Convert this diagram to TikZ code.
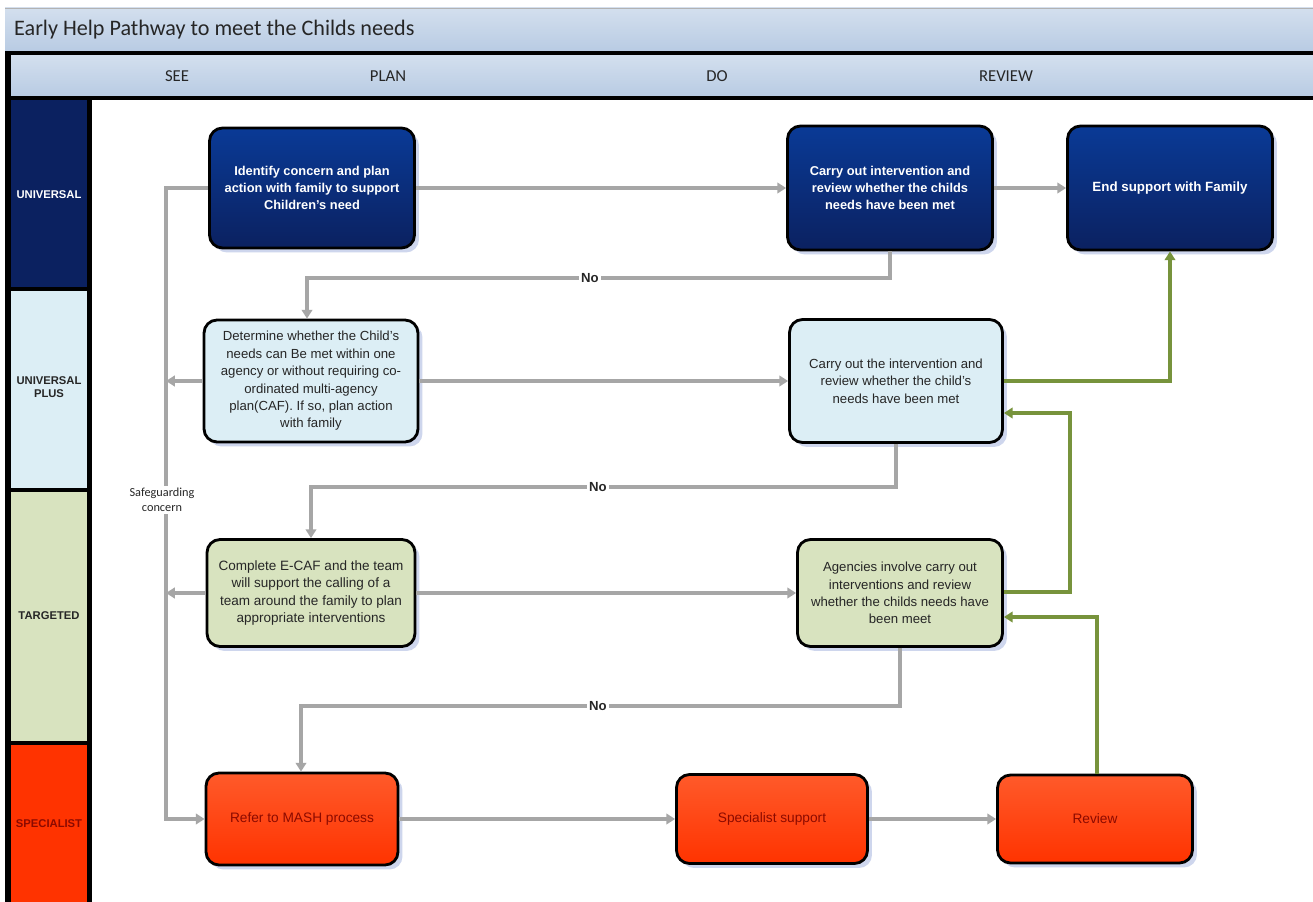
\documentclass[tikz,border=0pt]{standalone}
\usepackage{fontspec}
\setmainfont{Liberation Sans}
\newfontfamily\carlitofont{Carlito}
\usetikzlibrary{arrows.meta,shadows,calc}
\definecolor{navyA}{HTML}{0A3A96}
\definecolor{navyB}{HTML}{0B2160}
\definecolor{lblue}{HTML}{DCEEF5}
\definecolor{lgreen}{HTML}{D8E3BF}
\definecolor{redA}{HTML}{FF5A2A}
\definecolor{redB}{HTML}{FF3300}
\definecolor{conn}{HTML}{A6A6A6}
\definecolor{gconn}{HTML}{77933C}
\definecolor{hdrA}{HTML}{D3DFEE}
\definecolor{hdrB}{HTML}{B8CBE3}
\definecolor{shad}{HTML}{C9D2EC}
\definecolor{dred}{HTML}{8B0A00}
\definecolor{txtg}{HTML}{262626}
\tikzset{
  box/.style={draw=black, line width=1.6pt, rounded corners=0.26cm, align=center,
    font=\fontsize{7.3}{9.6}\selectfont, inner sep=0pt,
    drop shadow={fill=shad, shadow xshift=0.09cm, shadow yshift=-0.09cm, opacity=0.9}},
  ubox/.style={box, top color=navyA, bottom color=navyB, text=white, font=\fontsize{7.3}{9.6}\selectfont\bfseries},
  pbox/.style={box, fill=lblue, text=txtg},
  tbox/.style={box, fill=lgreen, text=txtg},
  sbox/.style={box, top color=redA, bottom color=redB, text=dred},
  garrow/.style={draw=conn, line width=2.3pt, -{Triangle[length=5pt,width=6pt]}},
  grn/.style={draw=gconn, line width=2.3pt, -{Triangle[length=5pt,width=6pt]}},
  lane/.style={draw=none, font=\fontsize{6.4}{7.5}\selectfont\bfseries, align=center},
  nolab/.style={fill=white, inner sep=1pt, font=\fontsize{7.5}{8}\selectfont\bfseries, text=txtg},
  hdr/.style={font=\carlitofont\fontsize{9.5}{11}\selectfont, text=txtg}
}
\begin{document}
\begin{tikzpicture}[x=0.02cm,y=-0.02cm]
\useasboundingbox (0,0) rectangle (1313,902);
\fill[white] (0,0) rectangle (1313,902);
% title bar
\shade[top color=hdrA, bottom color=hdrB] (5,8) rectangle (1313,52);
\draw[gray!60, line width=0.5pt] (5,8) -- (1313,8);
\node[anchor=west, font=\carlitofont\fontsize{12.6}{14}\selectfont, text=txtg] (title) at (8,30) {Early Help Pathway to meet the Childs needs};
% phase header
\shade[top color=hdrA, bottom color=hdrB] (5,55) rectangle (1313,97);
\fill[black] (5,51) rectangle (1313,55);
\fill[black] (5,96) rectangle (1313,100);
\node[hdr] (see) at (177,76) {SEE};
\node[hdr] (plan) at (388,76) {PLAN};
\node[hdr] (do) at (717,76) {DO};
\node[hdr] (review) at (1006,76) {REVIEW};
% lanes
\fill[navyB] (10,100) rectangle (88,288);
\fill[lblue] (10,288) rectangle (88,489);
\fill[lgreen] (10,489) rectangle (88,743);
\fill[redB] (10,743) rectangle (88,902);
\fill[black] (5,51) rectangle (11,902);
\fill[black] (87,96) rectangle (92,902);
\fill[black] (10,287) rectangle (88,291);
\fill[black] (10,488) rectangle (88,492);
\fill[black] (10,741) rectangle (88,745);
\node[lane, text=white] (l1) at (49,195) {UNIVERSAL};
\node[lane, text=txtg] (l2) at (49,387) {UNIVERSAL\\PLUS};
\node[lane, text=txtg] (l3) at (49,616) {TARGETED};
\node[lane, text=dred] (l4) at (49,824) {SPECIALIST};
% nodes
\node[ubox, minimum width=4.1cm, minimum height=2.4cm] (A) at (312,188) {Identify concern and plan\\action with family to support\\Children's need};
\node[ubox, minimum width=4.1cm, minimum height=2.48cm] (B) at (890,188) {Carry out intervention and\\review whether the childs\\needs have been met};
\node[ubox, minimum width=4.1cm, minimum height=2.48cm, font=\fontsize{7.6}{9.6}\selectfont\bfseries] (C) at (1170,188) {End support with Family};
\node[pbox, minimum width=4.28cm, minimum height=2.44cm, font=\fontsize{7.5}{9.9}\selectfont] (D) at (311,381) {Determine whether the Child's\\needs can Be met within one\\agency or without requiring co-\\ordinated multi-agency\\plan(CAF). If so, plan action\\with family};
\node[pbox, minimum width=4.26cm, minimum height=2.46cm, font=\fontsize{7.5}{9.9}\selectfont] (E) at (896,381) {Carry out the intervention and\\review whether the child's\\needs have been met};
\node[tbox, minimum width=4.16cm, minimum height=2.14cm, font=\fontsize{7.7}{10}\selectfont] (F) at (311,593) {Complete E-CAF and the team\\will support the calling of a\\team around the family to plan\\appropriate interventions};
\node[tbox, minimum width=4.1cm, minimum height=2.14cm, font=\fontsize{7.5}{9.9}\selectfont] (G) at (900,593) {Agencies involve carry out\\interventions and review\\whether the childs needs have\\been meet};
\node[sbox, minimum width=3.84cm, minimum height=1.84cm, font=\fontsize{7.8}{10}\selectfont] (H) at (302,819) {Refer to MASH process};
\node[sbox, minimum width=3.82cm, minimum height=1.78cm, font=\fontsize{7.8}{10}\selectfont] (I) at (772,819) {Specialist support};
\node[sbox, minimum width=3.9cm, minimum height=1.76cm, font=\fontsize{7.8}{10}\selectfont] (J) at (1095,819) {Review};
% straight arrows
\draw[garrow] (A.east) -- (B.west);
\draw[garrow] (B.east) -- (C.west);
\draw[garrow] (D.east) -- (E.west);
\draw[garrow] (F.east) -- (G.west);
\draw[garrow] (H.east) -- (I.west);
\draw[garrow] (I.east) -- (J.west);
% safeguarding
\coordinate (sg) at (166,0);
\draw[garrow] (A.west) -- (A.west -| sg) |- (H.west);
\draw[garrow] (D.west) -- (D.west -| sg);
\draw[garrow] (F.west) -- (F.west -| sg);
\node[fill=white, inner sep=1pt, align=center, font=\carlitofont\fontsize{7}{8.5}\selectfont, text=txtg] (sgl) at (162,500) {Safeguarding\\concern};
% No loops
\coordinate (n1) at (0,278);
\coordinate (n2) at (0,487);
\coordinate (n3) at (0,706);
\draw[garrow] (B.south) -- (B.south |- n1) -- ($(D.north |- n1)+(-4,0)$) -- ($(D.north)+(-4,0)$);
\node[nolab] (no1) at (590,278) {No};
\draw[garrow] (E.south) -- (E.south |- n2) -- (F.north |- n2) -- (F.north);
\node[nolab] (no2) at (598,487) {No};
\draw[garrow] (G.south) -- (G.south |- n3) -- ($(H.north |- n3)+(-1,0)$) -- ($(H.north)+(-1,0)$);
\node[nolab] (no3) at (598,706) {No};
% green returns
\draw[grn] (E.east) -- (E.east -| C.south) -- (C.south);
\coordinate (g1) at (1070,0);
\draw[grn] ($(G.east)+(0,-1)$) -- ($(G.east -| g1)+(0,-1)$) -- ($(g1)+(0,413)$) -- ($(E.east)+(0,32)$);
\coordinate (g2) at (1097,0);
\draw[grn] (J.north -| g2) -- ($(g2)+(0,617)$) -- ($(G.east)+(0,24)$);
\end{tikzpicture}
\end{document}
